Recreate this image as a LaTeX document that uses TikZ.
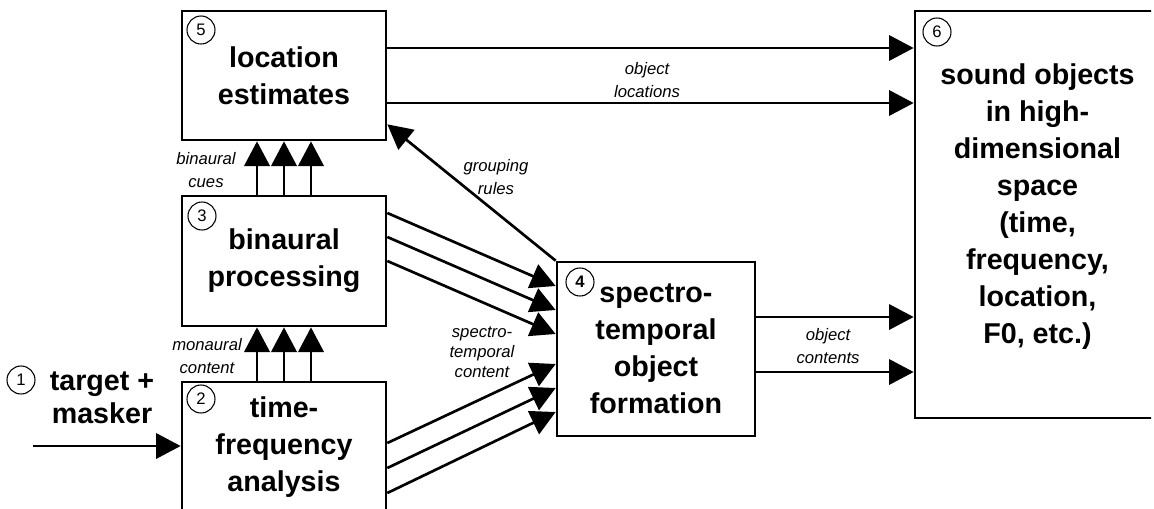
\documentclass[tikz,border=0pt]{standalone}
\usepackage{fontspec}
\setmainfont{Liberation Sans}
\usetikzlibrary{arrows.meta,calc}

\tikzset{
  box/.style={draw,line width=2pt,align=center,inner sep=0pt,font=\bfseries\fontsize{21.5}{27.75}\selectfont},
  num/.style={draw,circle,line width=0.8pt,inner sep=0pt,minimum size=21pt,font=\fontsize{12.5}{12.5}\selectfont},
  lbl/.style={align=center,inner sep=0pt,font=\itshape\fontsize{12.5}{17}\selectfont},
}

\begin{document}
\begin{tikzpicture}[x=0.75pt,y=-0.75pt,>={Triangle[length=18.5pt,width=19pt]},line width=2pt]
  \path[use as bounding box,fill=white] (0,0) rectangle (1154,508);
  \clip (0,0) rectangle (1151,508);
  % boxes
  \node[box,minimum width=153pt,minimum height=96.75pt] (loc) at (284,75.5) {location\\estimates};
  \node[box,minimum width=153pt,minimum height=97.5pt] (bin) at (284,261) {binaural\\processing};
  \node[box,minimum width=153pt,minimum height=97.5pt] (tf) at (284,447) {time-\\frequency\\analysis};
  \node[box,minimum width=148.5pt,minimum height=130.5pt] (obj) at (656,349) {spectro-\\temporal\\object\\formation};
  \node[box,minimum width=195pt,minimum height=305.25pt] (snd) at (1045,214.5) {};
  \node[align=center,inner sep=0pt,font=\bfseries\fontsize{21.5}{27.75}\selectfont] (sndtxt) at (1037.5,207) {sound objects\\in high-\\dimensional\\space\\(time,\\frequency,\\location,\\F0, etc.)};
  % numbers
  \node[num] (n1) at (21,380) {1};
  \node[num] (n2) at (201,399) {2};
  \node[num] (n3) at (202,216) {3};
  \node[num,font=\bfseries\fontsize{12.5}{12.5}\selectfont] (n4) at (580,282) {4};
  \node[num] (n5) at (201,30) {5};
  \node[num] (n6) at (937,32) {6};
  % input
  \node[align=center,inner sep=0pt,font=\bfseries\fontsize{21.5}{25}\selectfont] (src) at (102,398) {target +\\masker};
  \coordinate (in) at (33,446);
  % labels
  \node[lbl] (lblloc) at (647,80) {object\\locations};
  \node[lbl] (lblcont) at (828,346) {object\\contents};
  \node[lbl] (lblgroup) at (496,177) {grouping\\rules};
  \node[lbl,font=\itshape\fontsize{12.5}{15}\selectfont] (lblspec) at (482,352) {spectro-\\temporal\\content};
  \node[lbl] (lblcues) at (206,170) {binaural\\cues};
  \node[lbl] (lblmon) at (207,356) {monaural\\content};
  % arrows
  \draw[->] (in) -- (in -| tf.west);
  \foreach \dx in {-27,0,27} {
    \draw[->] ($(tf.north)+(\dx,0)$) -- ($(bin.south)+(\dx,0)$);
    \draw[->] ($(bin.north)+(\dx,0)$) -- ($(loc.south)+(\dx,0)$);
  }
  \foreach \a/\b in {-48/-63,-24/-39,0/-15}
    \draw[->] ($(bin.east)+(0,\a)$) -- ($(obj.west)+(0,\b)$);
  \foreach \a/\b in {-4/15,21/39,46/63}
    \draw[->] ($(tf.east)+(0,\a)$) -- ($(obj.west)+(0,\b)$);
  \draw[->] (obj.north west) -- ($(loc.south east)+(0,-17)$);
  \foreach \dy in {-27.5,27.5}
    \draw[->] ($(loc.east)+(0,\dy)$) -- ($(snd.west |- loc.east)+(0,\dy)$);
  \foreach \dy in {-32,23}
    \draw[->] ($(obj.east)+(0,\dy)$) -- ($(snd.west |- obj.east)+(0,\dy)$);
\end{tikzpicture}
\end{document}
